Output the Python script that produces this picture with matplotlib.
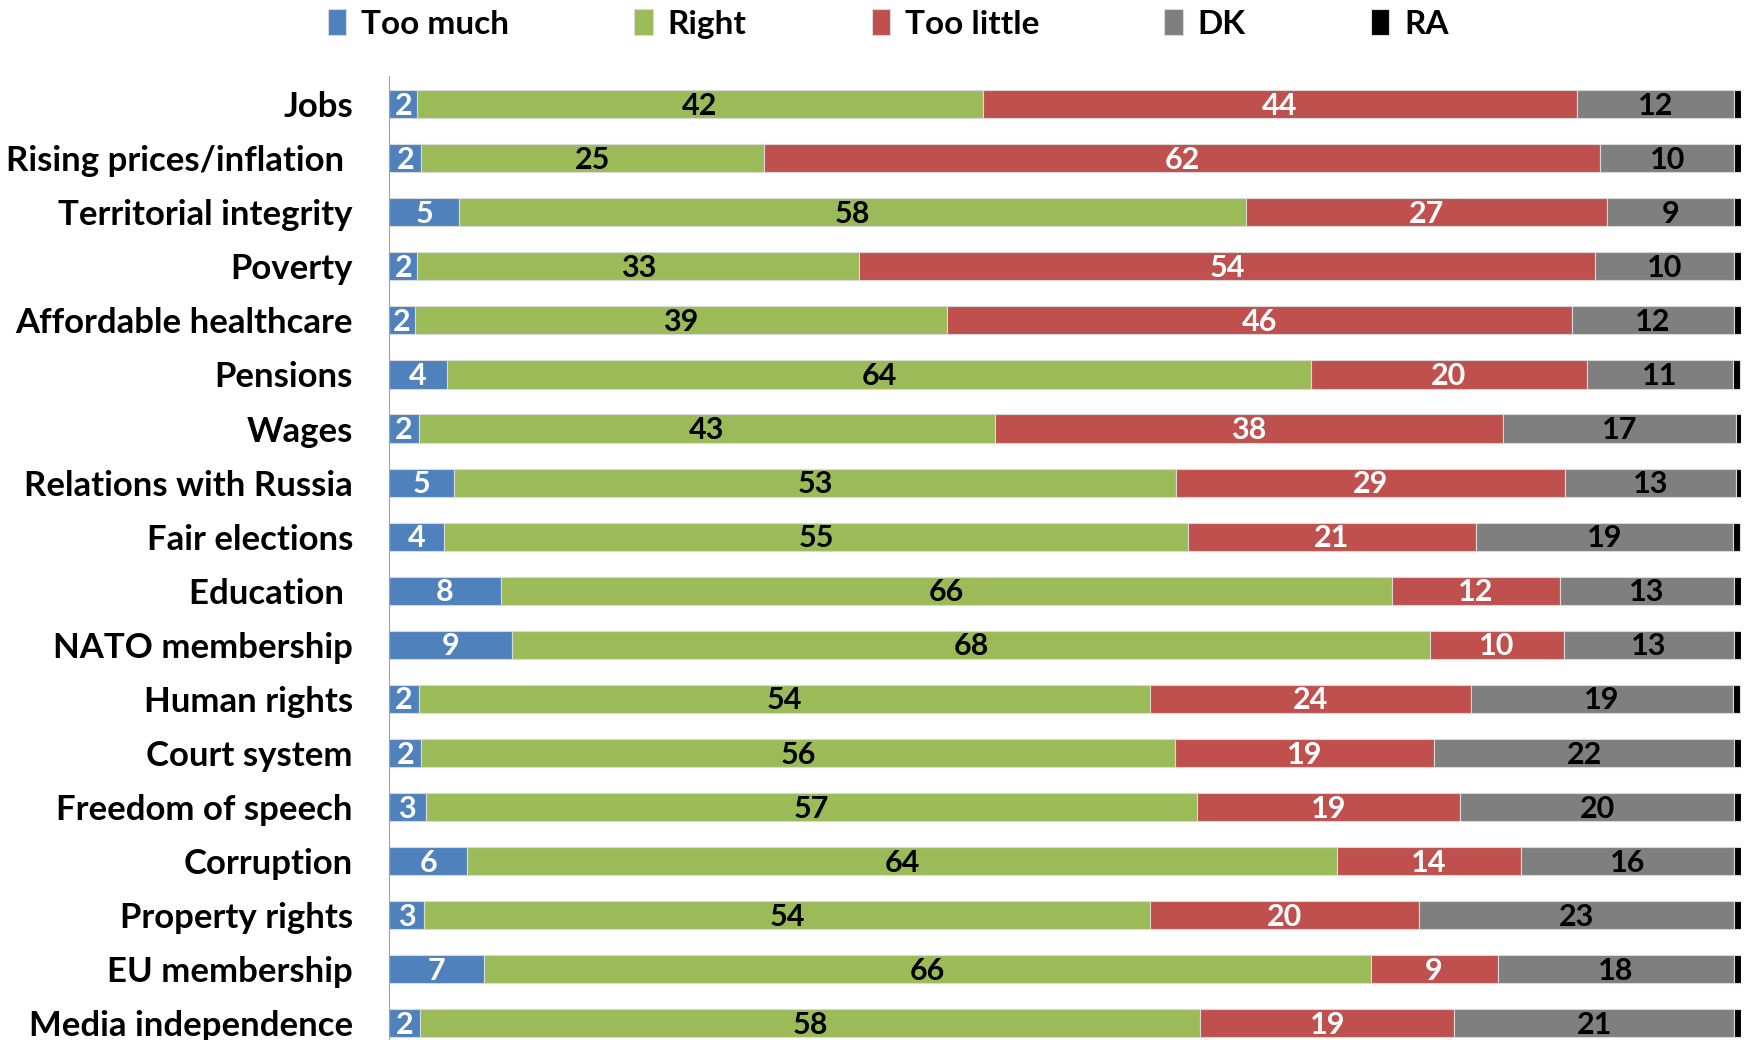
import numpy as np
import matplotlib.pyplot as plt

plt.rcParams['font.family'] = ['Lato', 'DejaVu Sans']

# survey: is the government paying too much / right / too little attention
categories = ["Jobs", "Rising prices/inflation ", "Territorial integrity", "Poverty",
              "Affordable healthcare", "Pensions", "Wages", "Relations with Russia",
              "Fair elections", "Education ", "NATO membership", "Human rights",
              "Court system", "Freedom of speech", "Corruption", "Property rights",
              "EU membership", "Media independence"]
too_much = [2.1, 2.4, 5.2, 2.1, 1.9, 4.3, 2.2, 4.8, 4.1, 8.3, 9.1, 2.2, 2.4, 2.7, 5.8, 2.6, 7.0, 2.3]
right = [41.8, 25.3, 58.2, 32.7, 39.4, 63.9, 42.6, 53.4, 55.0, 65.9, 67.9, 54.1, 55.7, 57.1, 64.3, 53.7, 65.6, 57.7]
too_little = [44.0, 61.9, 26.7, 54.4, 46.2, 20.4, 37.6, 28.8, 21.3, 12.4, 9.9, 23.7, 19.2, 19.4, 13.6, 19.9, 9.4, 18.8]
dk = [11.6, 9.9, 9.4, 10.3, 12.0, 10.8, 17.2, 12.6, 19.0, 12.9, 12.6, 19.4, 22.2, 20.3, 15.8, 23.3, 17.5, 20.7]
ra = [0.5] * 18

series = [("Too much", too_much, "#4F81BD", "white"),
          ("Right", right, "#9BBB59", "black"),
          ("Too little", too_little, "#C0504D", "white"),
          ("DK", dk, "#7F7F7F", "black"),
          ("RA", ra, "#000000", None)]

fig = plt.figure(figsize=(17.52, 10.40), dpi=100)
ax = fig.add_axes([389 / 1752, 0.0, (1741 - 389) / 1752, 1 - 76 / 1040])

y = np.arange(len(categories))
left = np.zeros(len(categories))
for name, vals, color, tcolor in series:
    vals = np.array(vals)
    ax.barh(y, vals, left=left, height=0.52, color=color, edgecolor="#d9d9d9",
            linewidth=0.8, label=name)
    if tcolor:
        for yi, l, v in zip(y, left, vals):
            ax.text(l + v / 2, yi + 0.03, f"{v:.0f}", ha="center", va="center",
                    color=tcolor, fontsize=22, fontweight="bold")
    left += vals

ax.set_xlim(0, 100)
ax.set_ylim(len(categories) - 1 + 0.31, -0.52)
ax.set_yticks(y)
ax.set_yticklabels(categories, fontsize=25, fontweight="bold")
ax.tick_params(axis="y", length=0, pad=26)
ax.set_xticks([])
for s in ["top", "right", "bottom"]:
    ax.spines[s].set_visible(False)
ax.spines["left"].set_color("#a0a0a0")

fig.legend(loc="upper left", bbox_to_anchor=(298 / 1752, 1.02), ncol=5, frameon=False,
           handlelength=0.55, handleheight=0.8, handletextpad=0.45,
           columnspacing=3.75, prop={"weight": "bold", "size": 24})

fig.savefig("out.png", dpi=100)
